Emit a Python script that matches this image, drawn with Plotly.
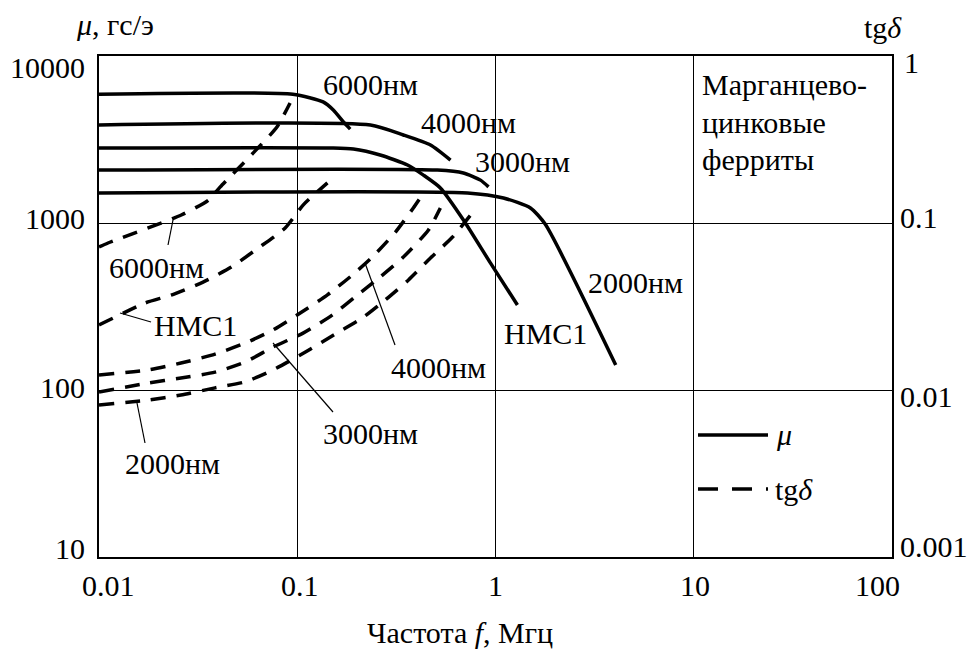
import numpy as np
import plotly.graph_objects as go

# ---- initial permeability mu (gs/Oe) versus frequency f (MHz) ----
f_mu_6000 = [0.01, 0.095, 0.135, 0.152, 0.171, 0.185]
mu_6000 = [5900, 5900, 5310, 4750, 4030, 3650]

f_mu_4000 = [0.01, 0.234, 0.343, 0.47, 0.593]
mu_4000 = [3860, 3860, 3365, 2930, 2380]

f_mu_nmc1 = [0.01, 0.152, 0.192, 0.262, 0.36, 0.433, 0.527, 0.689, 0.944, 1.29]
mu_nmc1 = [2815, 2815, 2775, 2555, 2225, 1935, 1622, 1043, 575, 323]

f_mu_3000 = [0.01, 0.509, 0.689, 0.84, 0.922]
mu_3000 = [2075, 2075, 1993, 1806, 1645]

f_mu_2000 = [0.01, 0.723, 1.097, 1.5, 1.78, 4.04]
mu_2000 = [1514, 1514, 1412, 1230, 985, 141]

# ---- loss tangent tg(delta) versus frequency f (MHz) ----
f_tg_6000 = [0.01, 0.0111, 0.026, 0.0356, 0.0408, 0.060, 0.079, 0.092]
tg_6000 = [0.0718, 0.0759, 0.1117, 0.137, 0.164, 0.263, 0.376, 0.523]

f_tg_nmc1 = [0.01, 0.0171, 0.0231, 0.0335, 0.0465, 0.0636, 0.0869, 0.107, 0.142]
tg_nmc1 = [0.0245, 0.0332, 0.037, 0.0443, 0.0545, 0.0708, 0.0933, 0.128, 0.174]

f_tg_4000 = [0.01, 0.0177, 0.0259, 0.0385, 0.0546, 0.0756, 0.1035, 0.142, 0.190,
             0.239, 0.313, 0.385, 0.433]
tg_4000 = [0.0123, 0.0132, 0.0145, 0.0164, 0.0191, 0.0229, 0.0289, 0.0371, 0.0489,
           0.0625, 0.0883, 0.123, 0.151]

f_tg_3000 = [0.01, 0.0177, 0.0259, 0.0385, 0.0546, 0.0756, 0.107, 0.150, 0.196,
             0.262, 0.343, 0.459, 0.527]
tg_3000 = [0.00973, 0.0110, 0.0118, 0.0128, 0.0147, 0.0181, 0.0219, 0.0281, 0.0361,
           0.0475, 0.0625, 0.0908, 0.123]

f_tg_2000 = [0.01, 0.0177, 0.0259, 0.0385, 0.0546, 0.0756, 0.110, 0.152, 0.213,
             0.278, 0.364, 0.470, 0.607, 0.755]
tg_2000 = [0.00813, 0.00871, 0.00933, 0.0103, 0.0112, 0.0132, 0.0169, 0.0213, 0.0270,
           0.0346, 0.0456, 0.0617, 0.0824, 0.113]

# ---- tick values and their labels ----
x_ticks = [0.01, 0.1, 1, 10, 100]
x_ticktext = ["0.01", "0.1", "1", "10", "100"]
mu_ticks = [10, 100, 1000, 10000]
mu_ticktext = ["10", "100", "1000", "10000"]
tg_ticks = [0.001, 0.01, 0.1, 1]
tg_ticktext = ["0.001", "0.01", "0.1", "1"]

# label nudges in pixels (kept inside the frame at the corners)
x_tick_dx = [9, 3, 0, 1, -15]
mu_tick_dy = [9, 3, 5, -11]
tg_tick_dy = [11, -6, 6, -6]
tg_tick_dx = [6, 6, 6, 10]

FONT = "Liberation Serif"
FS = 30
W, H = 970, 658
L, R, T, B = 99, 892, 56, 557  # plot-area edges in pixels


def px(xp):
    return (xp - L) / (R - L)


def py(yp):
    return (B - yp) / (B - T)


fig = go.Figure()

solid = dict(color="black", width=3.5)
dashed = dict(color="black", width=3.5, dash="15px,11px")

for fx, val in [(f_mu_6000, mu_6000), (f_mu_4000, mu_4000), (f_mu_nmc1, mu_nmc1),
                (f_mu_3000, mu_3000), (f_mu_2000, mu_2000)]:
    fig.add_trace(go.Scatter(x=fx, y=val, mode="lines", line=solid,
                             line_shape="spline", line_smoothing=0.6,
                             showlegend=False, hoverinfo="skip"))

for fx, val in [(f_tg_6000, tg_6000), (f_tg_nmc1, tg_nmc1), (f_tg_4000, tg_4000),
                (f_tg_3000, tg_3000), (f_tg_2000, tg_2000)]:
    fig.add_trace(go.Scatter(x=fx, y=val, mode="lines", line=dashed, yaxis="y2",
                             line_shape="spline", line_smoothing=0.6,
                             showlegend=False, hoverinfo="skip"))

axis_common = dict(
    type="log", showgrid=True, gridcolor="black", gridwidth=1,
    showline=True, linecolor="black", linewidth=1.5, mirror=True,
    zeroline=False, ticks="", showticklabels=False,
)

fig.update_layout(
    width=W, height=H,
    margin=dict(l=L, r=W - R, t=T, b=H - B),
    paper_bgcolor="white", plot_bgcolor="white",
    font=dict(family=FONT, size=FS, color="black"),
    xaxis=dict(axis_common, range=[-2, 2], tickvals=x_ticks),
    yaxis=dict(axis_common, range=[1, 4], tickvals=mu_ticks),
    yaxis2=dict(type="log", range=[-3, 0], overlaying="y", side="right",
                tickvals=tg_ticks, showgrid=False, showline=False, zeroline=False,
                ticks="", showticklabels=False),
    showlegend=False,
)

tick_font = dict(family=FONT, size=FS, color="black")

# frequency tick labels
for v, t, dx in zip(x_ticks, x_ticktext, x_tick_dx):
    fig.add_annotation(text=t, xref="x", yref="paper", x=np.log10(v), y=0,
                       xanchor="center", yanchor="middle", xshift=dx, yshift=-28,
                       showarrow=False, font=tick_font)

# permeability tick labels (left)
for v, t, dy in zip(mu_ticks, mu_ticktext, mu_tick_dy):
    fig.add_annotation(text=t, xref="paper", yref="y", x=0, y=np.log10(v),
                       xanchor="right", yanchor="middle", xshift=-12, yshift=dy,
                       showarrow=False, font=tick_font)

# loss tangent tick labels (right)
for v, t, dy, dx in zip(tg_ticks, tg_ticktext, tg_tick_dy, tg_tick_dx):
    fig.add_annotation(text=t, xref="paper", yref="y2", x=1, y=np.log10(v),
                       xanchor="left", yanchor="middle", xshift=dx, yshift=dy,
                       showarrow=False, font=tick_font)

# curve labels (centre positions in pixels)
labels = [
    ("6000нм", 370, 84), ("4000нм", 468, 123), ("3000нм", 522, 161),
    ("2000нм", 635, 282), ("НМС1", 545, 333),
    ("6000нм", 156, 267), ("НМС1", 195, 325), ("2000нм", 172, 463),
    ("3000нм", 370, 433), ("4000нм", 438, 367),
]
for text, xc, yc in labels:
    fig.add_annotation(text=text, xref="paper", yref="paper", x=px(xc), y=py(yc),
                       xanchor="center", yanchor="middle",
                       showarrow=False, font=dict(family=FONT, size=FS))

for text, yc in [("Марганцево-", 84), ("цинковые", 122), ("ферриты", 159)]:
    fig.add_annotation(text=text, xref="paper", yref="paper", x=px(700), y=py(yc),
                       xanchor="left", yanchor="middle",
                       showarrow=False, font=dict(family=FONT, size=FS))

# leader lines from labels to the loss-tangent curves
leaders = [((168, 245), (173, 220)), ((120, 313), (151, 322)),
           ((137, 403), (145, 443)), ((273, 343), (333, 412)),
           ((365, 263), (395, 345))]
for (x0, y0), (x1, y1) in leaders:
    fig.add_shape(type="line", xref="paper", yref="paper",
                  x0=px(x0), y0=py(y0), x1=px(x1), y1=py(y1),
                  line=dict(color="black", width=1.2))

# key for line styles
fig.add_shape(type="line", xref="paper", yref="paper", x0=px(698), x1=px(768),
              y0=py(435), y1=py(435), line=dict(color="black", width=3.5))
fig.add_shape(type="line", xref="paper", yref="paper", x0=px(698), x1=px(768),
              y0=py(489), y1=py(489),
              line=dict(color="black", width=3.5, dash="20px,14px"))
fig.add_annotation(text="<i>μ</i>", xref="paper", yref="paper", x=px(774), y=py(434),
                   xanchor="left", yanchor="middle", showarrow=False,
                   font=dict(family=FONT, size=FS))
fig.add_annotation(text="tg<i>δ</i>", xref="paper", yref="paper", x=px(773), y=py(489),
                   xanchor="left", yanchor="middle", showarrow=False,
                   font=dict(family=FONT, size=FS))

# axis titles
fig.add_annotation(text="<i>μ</i>, гс/э", xref="paper", yref="paper", x=px(74), y=py(25),
                   xanchor="left", yanchor="middle", showarrow=False,
                   font=dict(family=FONT, size=FS))
fig.add_annotation(text="tg<i>δ</i>", xref="paper", yref="paper", x=px(904), y=py(27),
                   xanchor="right", yanchor="middle", showarrow=False,
                   font=dict(family=FONT, size=FS))
fig.add_annotation(text="Частота <i>f</i>, Мгц", xref="paper", yref="paper",
                   x=px(460), y=py(632), xanchor="center", yanchor="middle",
                   showarrow=False, font=dict(family=FONT, size=FS))

fig.write_html("out.html")
